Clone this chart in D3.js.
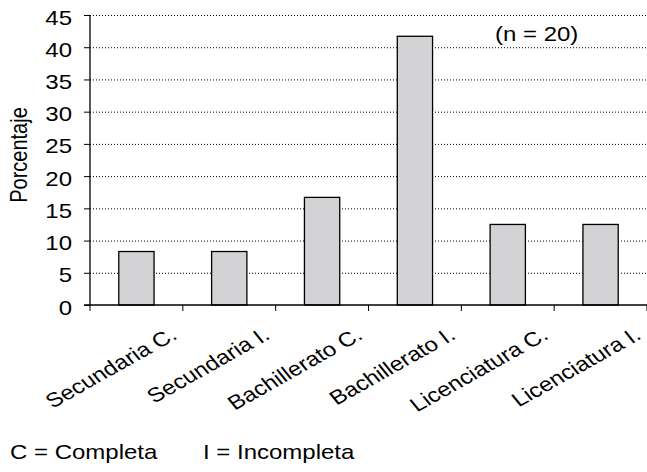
<!DOCTYPE html>
<html>
<head>
<meta charset="utf-8">
<script src="https://cdn.jsdelivr.net/npm/d3@7"></script>
<style>
  body { margin: 0; background: #fff; }
  text { font-family: 'Liberation Sans', Arial, sans-serif; fill: #000; }
</style>
</head>
<body>
<div id="graf"></div>
<script>
// datos
categorias = ['Secundaria C.', 'Secundaria I.', 'Bachillerato C.', 'Bachillerato I.', 'Licenciatura C.', 'Licenciatura I.']
porcentajes = [8.3, 8.3, 16.7, 41.7, 12.5, 12.5]
ticksY = [0, 5, 10, 15, 20, 25, 30, 35, 40, 45]

// el texto del original se ve ensanchado en horizontal
estirar = 1.2
fuente = '20px'

ancho_total = 647
alto_total = 472
margins = { top: 15, left: 90, right: 0, bottom: 167 }
ancho = ancho_total - margins.left - margins.right
alto = alto_total - margins.top - margins.bottom

svg = d3.select('#graf').append('svg')
  .attr('width', ancho_total)
  .attr('height', alto_total)

g = svg.append('g')
  .attr('transform', `translate(${margins.left}, ${margins.top})`)

x = d3.scaleBand().domain(categorias).range([0, ancho]).paddingInner(0.62).paddingOuter(0.31)
y = d3.scaleLinear().domain([0, 45]).range([alto, 0])

// rejilla punteada
g.append('g')
  .selectAll('line')
  .data(ticksY.filter(d => d > 0))
  .join('line')
  .attr('x1', 0)
  .attr('x2', ancho)
  .attr('y1', d => y(d) + 0.5)
  .attr('y2', d => y(d) + 0.5)
  .attr('stroke', '#000')
  .attr('stroke-width', 1)
  .attr('stroke-dasharray', '1,2')

// barras
g.selectAll('rect.barra')
  .data(porcentajes)
  .join('rect')
  .attr('class', 'barra')
  .attr('x', (d, i) => x(categorias[i]))
  .attr('y', d => y(d))
  .attr('width', x.bandwidth())
  .attr('height', d => alto - y(d))
  .attr('fill', '#d3d3d5')
  .attr('stroke', '#000')
  .attr('stroke-width', 1.3)

// eje Y
yAxis = d3.axisLeft(y).tickValues(ticksY).tickSize(6)
gy = g.append('g').call(yAxis)
gy.select('.domain').attr('stroke-width', 1.3).attr('d', `M-6,${alto}H0V0`)
gy.selectAll('text')
  .attr('font-size', fuente)
  .attr('font-family', 'Liberation Sans, Arial, sans-serif')
  .attr('x', -18 / estirar)
  .attr('dy', '0.45em')
  .attr('transform', `scale(${estirar},1)`)

// eje X con marcas entre categorías
gx = g.append('g').attr('transform', `translate(0,${alto})`)
gx.append('line')
  .attr('x1', 0).attr('x2', ancho)
  .attr('stroke', '#000').attr('stroke-width', 1.3)
gx.selectAll('line.marca')
  .data(d3.range(categorias.length + 1))
  .join('line')
  .attr('class', 'marca')
  .attr('x1', i => i * x.step())
  .attr('x2', i => i * x.step())
  .attr('y1', 0).attr('y2', 6)
  .attr('stroke', '#000').attr('stroke-width', 1)

gx.selectAll('text')
  .data(categorias)
  .join('text')
  .attr('text-anchor', 'end')
  .attr('font-size', fuente)
  .attr('transform', d => `translate(${x(d) + x.bandwidth() / 2 + 42}, 33) scale(${estirar},1) rotate(-34)`)
  .text(d => d)

// título eje Y
svg.append('text')
  .attr('transform', `translate(27, 155) scale(${estirar},1) rotate(-90)`)
  .attr('text-anchor', 'middle')
  .attr('font-size', fuente)
  .text('Porcentaje')

// anotación
svg.append('text')
  .attr('transform', `translate(495, 41) scale(${estirar},1)`)
  .attr('font-size', fuente)
  .text('(n = 20)')

// nota al pie
svg.append('text')
  .attr('transform', `translate(10, 459) scale(${estirar},1)`)
  .attr('font-size', fuente)
  .text('C = Completa')
svg.append('text')
  .attr('transform', `translate(203, 459) scale(${estirar},1)`)
  .attr('font-size', fuente)
  .text('I = Incompleta')
</script>
</body>
</html>
